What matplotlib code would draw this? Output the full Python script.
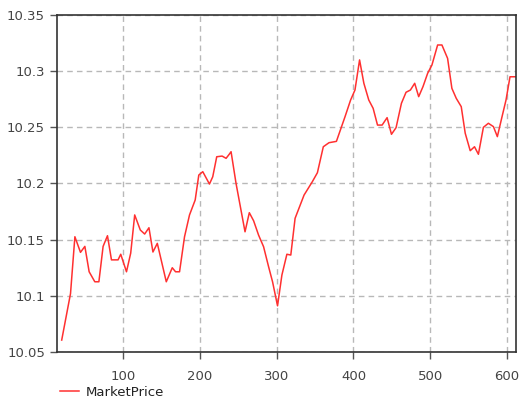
import matplotlib
matplotlib.use("Agg")
import matplotlib.pyplot as plt

# Market price series (time step, price)
steps = [19.5, 31, 36.7, 44, 49.7, 55.3, 62.7, 68, 73.5, 79.2, 84.4, 93, 96.5,
         104, 109.5, 114.7, 122, 127.7, 133.3, 138.5, 144.2, 155.9, 163.7, 168,
         173.2, 179.7, 186.2, 193.6, 198.3, 203.5, 212.2, 216.5, 221.7, 228.7,
         233.9, 238, 240.4, 246.9, 258.6, 264.2, 269.8, 276.3, 282.8, 289.3,
         294.5, 301, 306.7, 313.2, 318.3, 323.9, 335.6, 346.4, 353, 360.7,
         368.1, 377.8, 389, 396.3, 402, 408, 413.6, 420, 425.7, 431.4, 437.4,
         443.9, 449.6, 455.6, 462.6, 468.6, 474.3, 479.9, 485.1, 490.7, 496.8,
         502.4, 509.8, 515.4, 522.8, 528.4, 534.1, 540.6, 545.8, 552.3, 557.9,
         563, 569.5, 576, 582.6, 587.7, 593.3, 599, 604.2, 612]
price = [10.0606, 10.102, 10.1526, 10.1387, 10.144, 10.1214, 10.1125, 10.1125,
         10.144, 10.1535, 10.132, 10.132, 10.137, 10.1214, 10.138, 10.172,
         10.1586, 10.155, 10.1606, 10.139, 10.1467, 10.1125, 10.125, 10.1214,
         10.1214, 10.1526, 10.172, 10.1853, 10.2075, 10.2105, 10.1995, 10.206,
         10.2238, 10.2244, 10.2224, 10.226, 10.2283, 10.2, 10.157, 10.174,
         10.1668, 10.154, 10.1437, 10.126, 10.1125, 10.0911, 10.1185, 10.137,
         10.1363, 10.169, 10.1897, 10.2016, 10.2096, 10.2327, 10.2363, 10.2375,
         10.2594, 10.2743, 10.2832, 10.31, 10.2892, 10.2743, 10.2669, 10.252,
         10.252, 10.2586, 10.2438, 10.2497, 10.2714, 10.2812, 10.2832, 10.2892,
         10.2773, 10.2862, 10.2981, 10.3055, 10.3233, 10.3233, 10.3114, 10.2847,
         10.2758, 10.2684, 10.2447, 10.2292, 10.2327, 10.226, 10.25, 10.2536,
         10.2506, 10.2417, 10.258, 10.2743, 10.295, 10.295]

x_ticks = [100, 200, 300, 400, 500, 600]
y_ticks = [10.05, 10.1, 10.15, 10.2, 10.25, 10.3, 10.35]
y_labels = ["10.05", "10.1", "10.15", "10.2", "10.25", "10.3", "10.35"]

fig = plt.figure(figsize=(5.24, 4.03), dpi=100)
ax = fig.add_axes([0.1097, 0.1266, 0.875, 0.8362])

ax.plot(steps, price, color="#ff3030", linewidth=1.1, label="MarketPrice")

ax.set_xlim(14, 612)
ax.set_ylim(10.05, 10.35)
ax.set_xticks(x_ticks)
ax.set_yticks(y_ticks)
ax.set_yticklabels(y_labels)

ax.grid(True, color="#b8b8b8", linestyle=(0, (4, 3)), linewidth=1.0)
ax.set_axisbelow(True)

for sp in ax.spines.values():
    sp.set_color("#333333")
    sp.set_linewidth(1.2)

ax.tick_params(axis="both", direction="out", length=5, width=1.0,
               color="#555555", labelcolor="#444444", labelsize=9.5, pad=4)
ax.tick_params(axis="x", pad=8)

leg = ax.legend(loc="upper left", bbox_to_anchor=(-0.005, -0.085),
                frameon=False, fontsize=9.5, handlelength=1.4,
                handletextpad=0.5, borderaxespad=0)
for t in leg.get_texts():
    t.set_color("#222222")

fig.savefig("out.png", dpi=100)
